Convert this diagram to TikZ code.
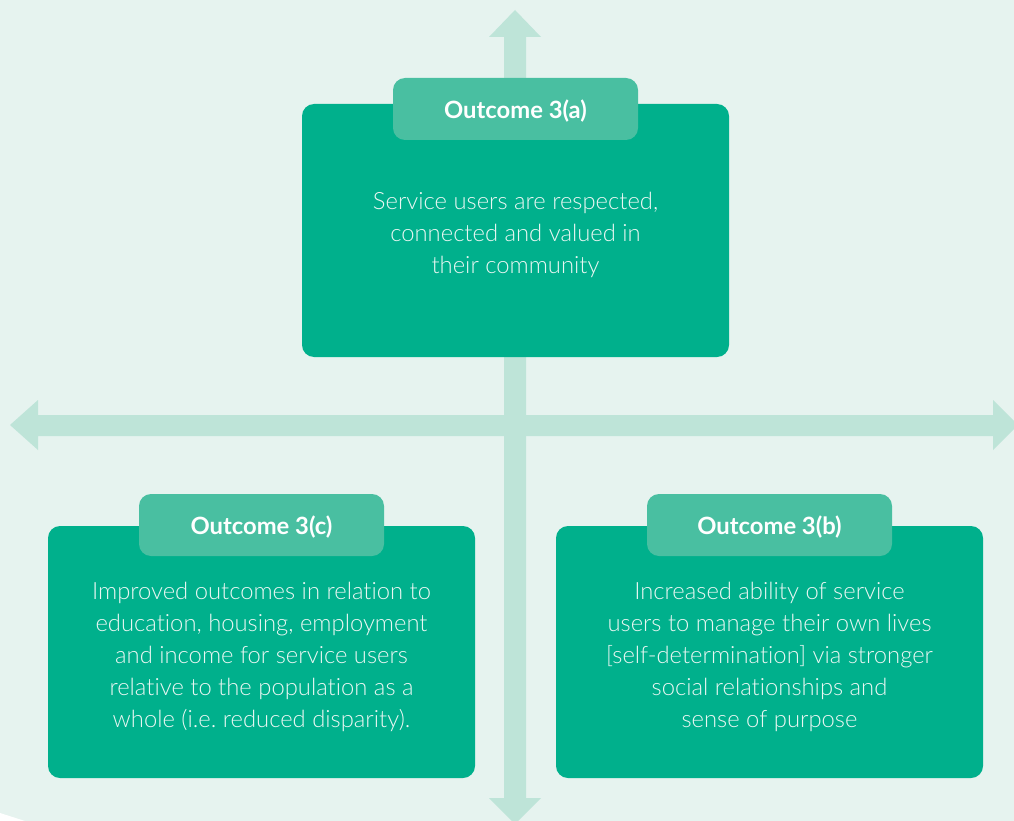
\documentclass[tikz,border=0pt]{standalone}
\usepackage{fontspec}
\setmainfont{Lato}
\newfontfamily\lightfont[Ligatures=NoCommon]{Lato Light}
\definecolor{bg}{HTML}{E6F3EF}
\definecolor{arr}{HTML}{BEE4D8}
\definecolor{boxc}{HTML}{00B08C}
\definecolor{labc}{HTML}{49BFA1}
\definecolor{txtc}{HTML}{EAF7F3}
\tikzset{
  outbox/.style={fill=boxc, rounded corners=12pt, inner sep=0pt, minimum width=427pt, minimum height=253pt},
  labbox/.style={fill=labc, rounded corners=12pt, inner sep=0pt, minimum width=245pt, minimum height=62pt},
  labtxt/.style={text=white, inner sep=0pt, font=\fontsize{23.8}{28}\selectfont\bfseries},
  bodytxt/.style={text=txtc, align=center, inner sep=0pt, font=\frenchspacing\lightfont\fontsize{23.8}{32}\selectfont},
}
\begin{document}
\begin{tikzpicture}[x=1pt,y=-1pt]
\useasboundingbox (0,0) rectangle (1014,821);
\fill[bg] (0,0) rectangle (1014,821);
\fill[white] (0,813) -- (25,821) -- (0,821) -- cycle;
% vertical double arrow
\fill[arr] (515,10) -- (541,37) -- (526,37) -- (526,798) -- (541,798) -- (515,824)
  -- (489,798) -- (504,798) -- (504,37) -- (489,37) -- cycle;
% horizontal double arrow
\fill[arr] (10,425) -- (38,400) -- (38,415) -- (993,415) -- (993,400) -- (1018,425)
  -- (993,450) -- (993,436) -- (38,436) -- (38,450) -- cycle;
% top box
\node[outbox] (boxa) at (515.5,230.5) {};
\node[labbox] (laba) at (515.5,109) {};
\node[labtxt] (labta) at (515.5,111) {Outcome 3(a)};
\node[bodytxt] (txta) at (515.5,235) {Service users are respected,\\connected and valued in\\their community};
% bottom left box
\node[outbox, minimum height=252pt] (boxc) at (261.5,652) {};
\node[labbox] (labc) at (261.5,525) {};
\node[labtxt] (labtc) at (261.5,527) {Outcome 3(c)};
\node[bodytxt] (txtc) at (261.5,657) {Improved outcomes in relation to\\education, housing, employment\\and income for service users\\relative to the population as a\\whole (i.e. reduced disparity).};
% bottom right box
\node[outbox, minimum height=252pt] (boxb) at (769.5,652) {};
\node[labbox] (labb) at (769.5,525) {};
\node[labtxt] (labtb) at (769.5,527) {Outcome 3(b)};
\node[bodytxt] (txtb) at (769.5,657) {Increased ability of service\\users to manage their own lives\\{[}self-determination{]} via stronger\\social relationships and\\sense of purpose};
\end{tikzpicture}
\end{document}
